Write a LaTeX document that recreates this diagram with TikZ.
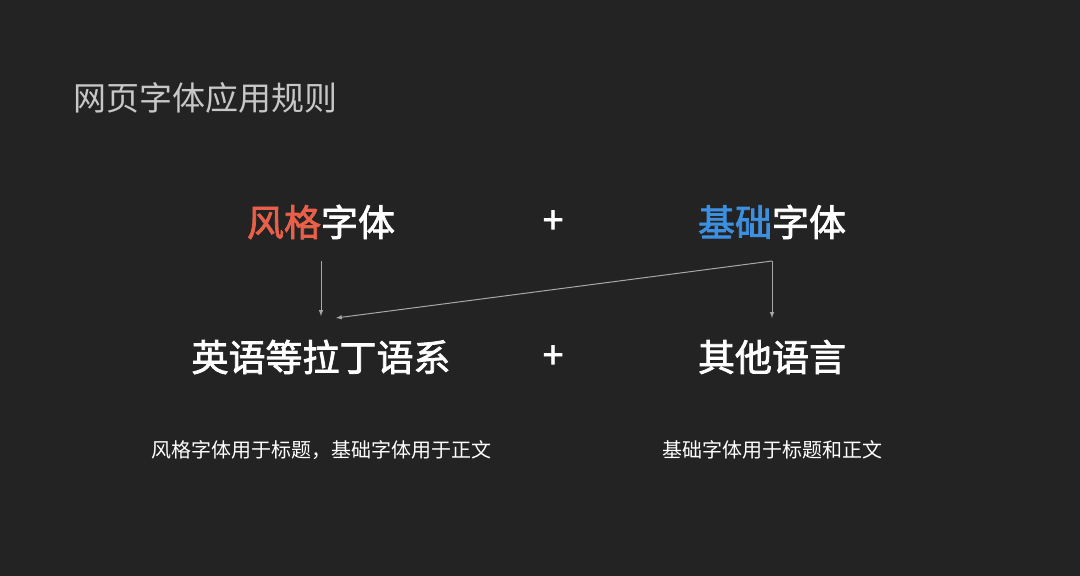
\documentclass[tikz,border=0pt]{standalone}
\usepackage{fontspec}
\newfontfamily\cjk{Noto Sans CJK SC}
\newfontfamily\cjkb{Noto Sans CJK SC}[FakeBold=2]
\definecolor{bg}{HTML}{232323}
\definecolor{rd}{HTML}{E8604A}
\definecolor{bl}{HTML}{3D8FE0}
\definecolor{ln}{HTML}{A8A8A8}
\begin{document}
\begin{tikzpicture}[x=1pt,y=-1pt,
  big/.style={text=white,font=\cjkb\fontsize{37}{40}\selectfont,inner sep=0},
  small/.style={text=white,font=\cjk\fontsize{20}{22}\selectfont,inner sep=0},
  arr/.style={draw=ln,line width=1pt,-latex}]
\fill[bg] (0,0) rectangle (1080,576);
\useasboundingbox (0,0) rectangle (1080,576);
\node[anchor=west,text=white!78!black,font=\cjk\fontsize{33}{36}\selectfont,inner sep=0] (t) at (73,98) {网页字体应用规则};
\node[big] (a) at (321,222) {\textcolor{rd}{风格}字体};
\node[big] (p1) at (553,222) {+};
\node[big] (b) at (772,222) {\textcolor{bl}{基础}字体};
\node[big] (c) at (321,357) {英语等拉丁语系};
\node[big] (p2) at (553,357) {+};
\node[big] (d) at (772,357) {其他语言};
\node[small] (e) at (321,450) {风格字体用于标题，基础字体用于正文};
\node[small] (f) at (772,450) {基础字体用于标题和正文};
\coordinate (s) at (772,261);
\draw[arr] (321,261) -- (321,316);
\draw[arr] (s) -- (772,318);
\draw[arr] (s) -- (336,318);
\end{tikzpicture}
\end{document}
